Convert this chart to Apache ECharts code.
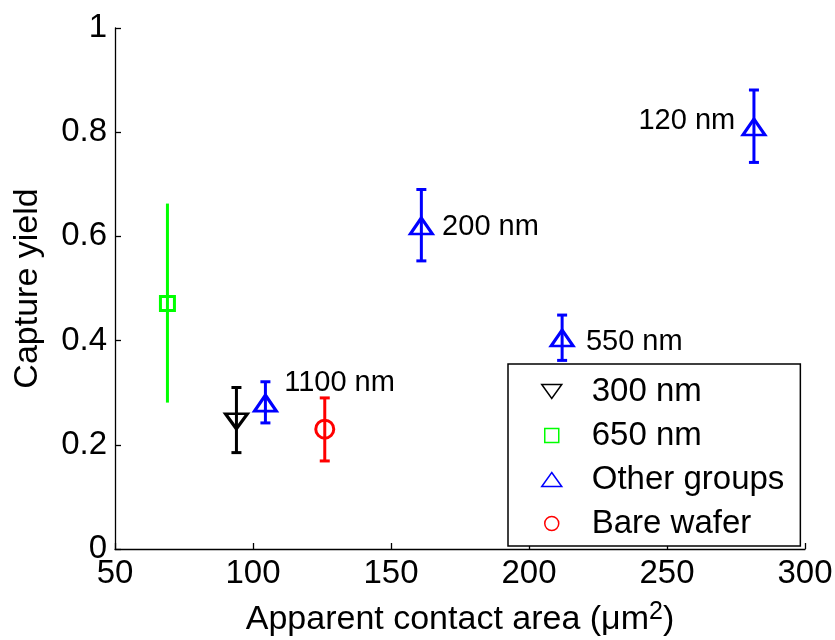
<!DOCTYPE html>
<html lang="en">
<head>
    <meta charset="UTF-8">
    <title>Capture yield</title>
    <script src="https://cdn.jsdelivr.net/npm/echarts@6/dist/echarts.min.js"></script>
    <style>
        html, body { margin: 0; padding: 0; background: #fff; }
        #chart1 { width: 835px; height: 640px; }
    </style>
</head>
<body>
<div id="chart1"></div>
<script type="text/javascript">

    // 300 nm
    var area300 = [94];
    var yield300 = [0.245];
    var low300 = [0.185];
    var high300 = [0.31];

    // 650 nm
    var area650 = [69];
    var yield650 = [0.471];
    var low650 = [0.281];
    var high650 = [0.663];

    // other groups
    var otherNames = ['1100 nm', '200 nm', '550 nm', '120 nm'];
    var otherArea = [104.5, 161, 212, 281.5];
    var otherYield = [0.28, 0.62, 0.405, 0.81];
    var otherLow = [0.242, 0.553, 0.362, 0.742];
    var otherHigh = [0.321, 0.69, 0.449, 0.881];

    // bare wafer
    var areaBare = [126];
    var yieldBare = [0.23];
    var lowBare = [0.169];
    var highBare = [0.29];

    var legendNames = ['300 nm', '650 nm', 'Other groups', 'Bare wafer'];

    var FONT = 'Liberation Sans, Arial, Helvetica, sans-serif';

    // where each label sits next to its point
    var labelPos = {
        '1100 nm': {position: 'right', distance: 6, offset: [0, -20]},
        '200 nm': {position: 'right', distance: 8, offset: [0, 1]},
        '550 nm': {position: 'right', distance: 11, offset: [0, 4]},
        '120 nm': {position: 'left', distance: 6, offset: [0, -6]}
    };

    function pts(xs, ys) {
        return xs.map(function (x, i) { return [x, ys[i]]; });
    }

    function bars(xs, lo, hi) {
        return xs.map(function (x, i) { return [x, lo[i], hi[i]]; });
    }

    function errRender(color, cap) {
        return function (params, api) {
            var x = api.value(0);
            var top = api.coord([x, api.value(2)]);
            var bot = api.coord([x, api.value(1)]);
            var style = {stroke: color, lineWidth: 3};
            var kids = [{
                type: 'line',
                shape: {x1: top[0], y1: top[1], x2: bot[0], y2: bot[1]},
                style: style
            }];
            if (cap > 0) {
                kids.push({type: 'line', shape: {x1: top[0] - cap, y1: top[1], x2: top[0] + cap, y2: top[1]}, style: style});
                kids.push({type: 'line', shape: {x1: bot[0] - cap, y1: bot[1], x2: bot[0] + cap, y2: bot[1]}, style: style});
            }
            return {type: 'group', children: kids};
        };
    }

    function errSeries(id, data, color, cap) {
        return {
            id: id,
            type: 'custom',
            data: data,
            renderItem: errRender(color, cap),
            encode: {x: 0, y: [1, 2]},
            z: 1,
            silent: true
        };
    }

    var otherData = pts(otherArea, otherYield).map(function (p, i) {
        var lp = labelPos[otherNames[i]];
        return {
            value: p,
            label: {
                show: true,
                formatter: otherNames[i],
                position: lp.position,
                distance: lp.distance,
                offset: lp.offset,
                color: '#000',
                fontSize: 29,
                fontFamily: FONT
            }
        };
    });

    var myChart1 = echarts.init(document.getElementById('chart1'));
    myChart1.setOption({
        animation: false,
        backgroundColor: '#fff',
        grid: {left: 115, right: 30, top: 28, bottom: 91, outerBoundsMode: 'none', containLabel: false},
        xAxis: {
            type: 'value',
            min: 50, max: 300, interval: 50,
            name: 'Apparent contact area (μm{sup|2})',
            nameLocation: 'middle',
            nameGap: 53,
            nameTextStyle: {
                color: '#000', fontSize: 34, fontFamily: FONT, lineHeight: 36,
                rich: {sup: {fontSize: 25, fontFamily: FONT, lineHeight: 36, padding: [0, 0, 16, 0]}}
            },
            axisLine: {lineStyle: {color: '#000', width: 1.3}},
            axisTick: {inside: true, length: 6, lineStyle: {color: '#000', width: 1.3}},
            axisLabel: {color: '#000', fontSize: 33, fontFamily: FONT, margin: 8},
            splitLine: {show: false}
        },
        yAxis: {
            type: 'value',
            min: 0, max: 1, interval: 0.2,
            name: 'Capture yield',
            nameLocation: 'middle',
            nameGap: 70,
            nameTextStyle: {color: '#000', fontSize: 34, fontFamily: FONT},
            axisLine: {lineStyle: {color: '#000', width: 1.3}},
            axisTick: {inside: true, length: 6, lineStyle: {color: '#000', width: 1.3}},
            axisLabel: {color: '#000', fontSize: 33, fontFamily: FONT, margin: 8},
            splitLine: {show: false}
        },
        legend: {
            orient: 'vertical',
            left: 508, top: 364,
            padding: [10, 16, 5, 33],
            itemWidth: 70, itemHeight: 14,
            itemGap: 9,
            backgroundColor: '#fff',
            borderColor: '#000', borderWidth: 1.5,
            itemStyle: {borderWidth: 1.5},
            textStyle: {color: '#000', fontSize: 33, fontFamily: FONT, lineHeight: 35},
            data: [
                {name: legendNames[0], icon: 'path://M0,0L20,0L10,14Z'},
                {name: legendNames[1], icon: 'path://M0,0L14,0L14,14L0,14Z'},
                {name: legendNames[2], icon: 'path://M10,0L20,14L0,14Z'},
                {name: legendNames[3], icon: 'circle'}
            ],
            selectedMode: false
        },
        series: [
            errSeries('err300', bars(area300, low300, high300), '#000', 5),
            errSeries('err650', bars(area650, low650, high650), '#00ff00', 0),
            errSeries('errOther', bars(otherArea, otherLow, otherHigh), '#0000ff', 5),
            errSeries('errBare', bars(areaBare, lowBare, highBare), '#ff0000', 5),
            {
                name: legendNames[0],
                type: 'scatter',
                symbol: 'triangle',
                symbolRotate: 180,
                symbolSize: [22, 15],
                itemStyle: {color: 'transparent', borderColor: '#000', borderWidth: 3, opacity: 1},
                data: pts(area300, yield300),
                z: 3
            },
            {
                name: legendNames[1],
                type: 'scatter',
                symbol: 'rect',
                symbolSize: 14,
                itemStyle: {color: 'transparent', borderColor: '#00ff00', borderWidth: 3, opacity: 1},
                data: pts(area650, yield650),
                z: 3
            },
            {
                name: legendNames[2],
                type: 'scatter',
                symbol: 'triangle',
                symbolSize: [22, 16],
                itemStyle: {color: 'transparent', borderColor: '#0000ff', borderWidth: 3, opacity: 1},
                data: otherData,
                z: 3
            },
            {
                name: legendNames[3],
                type: 'scatter',
                symbol: 'circle',
                symbolSize: 18,
                itemStyle: {color: 'transparent', borderColor: '#ff0000', borderWidth: 3, opacity: 1},
                data: pts(areaBare, yieldBare),
                z: 3
            }
        ]
    });

</script>
</body>
</html>
